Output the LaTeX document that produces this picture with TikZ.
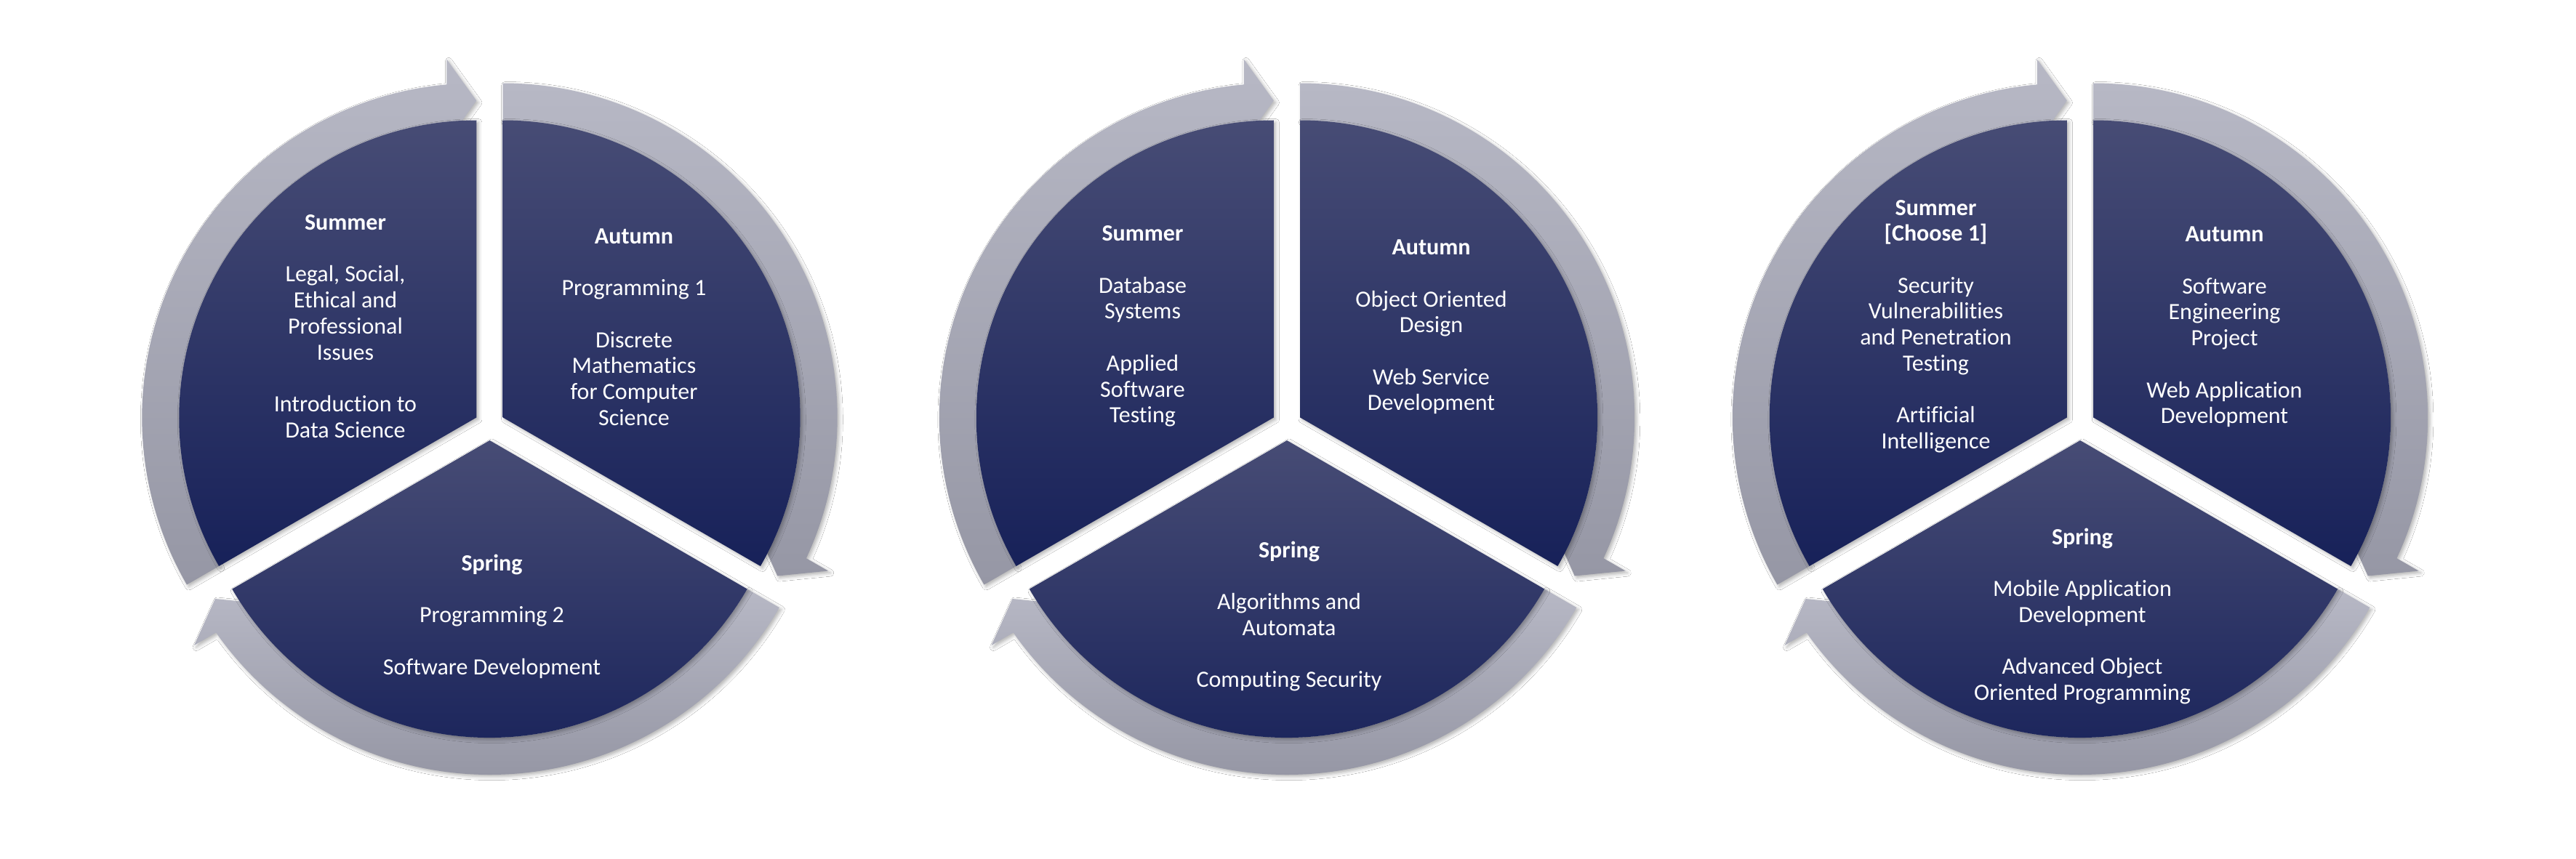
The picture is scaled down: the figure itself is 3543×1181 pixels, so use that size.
\documentclass[tikz,border=0pt]{standalone}
\usepackage{fontspec}
\setmainfont{Carlito}[Ligatures={NoCommon}]
\usetikzlibrary{calc,shadows.blur}
\definecolor{ringtop}{HTML}{B7B8C5}
\definecolor{ringbot}{HTML}{9697A5}
\definecolor{navytop}{HTML}{474C75}
\definecolor{navymid}{HTML}{1F2C65}
\definecolor{navybot}{HTML}{172159}
\tikzset{
  ringfill/.style={top color=ringtop, bottom color=ringbot,
    blur shadow={shadow xshift=0.7pt, shadow yshift=-0.7pt, shadow blur radius=1.2pt, shadow opacity=30}},
  wedgefill/.style={top color=navytop, middle color=navymid, bottom color=navybot,
    blur shadow={shadow xshift=0.7pt, shadow yshift=-0.7pt, shadow blur radius=1.2pt, shadow opacity=30}},
  segtext/.style={text=white, align=center, inner sep=0pt,
    font=\fontsize{8}{8.93}\selectfont},
}
% #1 = cycle centre coordinate, #2 = end angle of the segment (clockwise travel)
\newcommand\cyclesegment[2]{%
  \coordinate (sc) at ($(#1)+(#2+60:21)$);
  \path[ringfill] ($(sc)+(#2+120:409)$) -- ($(sc)+(#2+120:460)$)
    arc[start angle=#2+120, end angle=#2+5.1, radius=460]
    -- ($(sc)+(#2+4.75:494.7)$) -- ($(sc)+(#2:436)$) -- ($(sc)+(#2+6.17:381.2)$)
    -- ($(sc)+(#2+5.75:409)$)
    arc[start angle=#2+5.75, end angle=#2+120, radius=409] -- cycle;
  \path[wedgefill] (sc) -- ($(sc)+(#2+120:409)$)
    arc[start angle=#2+120, end angle=#2, radius=409] -- cycle;
}
\begin{document}
\begin{tikzpicture}[x=0.25pt, y=0.25pt]
\fill[white] (0,0) rectangle (3543,1181);
\useasboundingbox (0,0) rectangle (3543,1181);

\coordinate (C1) at (673.5,596);
\coordinate (C2) at (1770,596);
\coordinate (C3) at (2861,596);

\foreach \c in {C1,C2,C3}{
  \cyclesegment{\c}{90}
  \cyclesegment{\c}{-30}
  \cyclesegment{\c}{210}
}

% ---- cycle 1
\node[segtext] (sum1) at ($(C1)+(-198.5,136)$) {\textbf{Summer}\\[8.93pt]Legal, Social,\\Ethical and\\Professional\\Issues\\[8.93pt]Introduction to\\Data Science};
\node[segtext] (aut1) at ($(C1)+(198.5,135)$) {\textbf{Autumn}\\[8.93pt]Programming 1\\[8.93pt]Discrete\\Mathematics\\for Computer\\Science};
\node[segtext] (spr1) at ($(C1)+(3,-263)$) {\textbf{Spring}\\[8.93pt]Programming 2\\[8.93pt]Software Development};

% ---- cycle 2
\node[segtext] (sum2) at ($(C2)+(-198.5,136)$) {\textbf{Summer}\\[8.93pt]Database\\Systems\\[8.93pt]Applied\\Software\\Testing};
\node[segtext] (aut2) at ($(C2)+(198.5,135)$) {\textbf{Autumn}\\[8.93pt]Object Oriented\\Design\\[8.93pt]Web Service\\Development};
\node[segtext] (spr2) at ($(C2)+(3,-263)$) {\textbf{Spring}\\[8.93pt]Algorithms and\\Automata\\[8.93pt]Computing Security};

% ---- cycle 3
\node[segtext] (sum3) at ($(C3)+(-198.5,136)$) {\textbf{Summer}\\\textbf{[Choose 1]}\\[8.93pt]Security\\Vulnerabilities\\and Penetration\\Testing\\[8.93pt]Artificial\\Intelligence};
\node[segtext] (aut3) at ($(C3)+(198.5,135)$) {\textbf{Autumn}\\[8.93pt]Software\\Engineering\\Project\\[8.93pt]Web Application\\Development};
\node[segtext] (spr3) at ($(C3)+(3,-263)$) {\textbf{Spring}\\[8.93pt]Mobile Application\\Development\\[8.93pt]Advanced Object\\Oriented Programming};
\end{tikzpicture}
\end{document}
